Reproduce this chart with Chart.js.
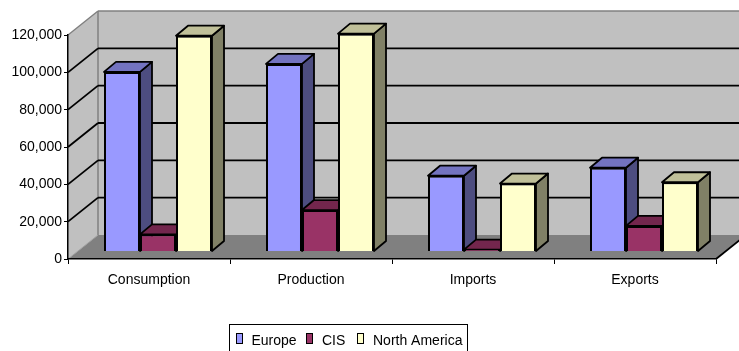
<!DOCTYPE html>
<html><head><meta charset="utf-8">
<script src="https://cdn.jsdelivr.net/npm/chart.js@4/dist/chart.umd.min.js"></script>
<style>html,body{margin:0;padding:0;background:#fff;overflow:hidden}#wrap{width:739px;height:351px;position:relative}</style>
</head><body><div id="wrap"><canvas id="c" width="739" height="351"></canvas></div>
<script>
// ---- data ----
const categories = ['Consumption', 'Production', 'Imports', 'Exports'];
const seriesNames = ['Europe', 'CIS', 'North America'];
const europe = [96200, 100500, 40600, 44900];
const cis = [9200, 22200, 1000, 13700];
const northAmerica = [115600, 116700, 36400, 37100];
const yTicks = [0, 20000, 40000, 60000, 80000, 100000, 120000];

// ---- styles ----
const frontColors = ['#9999FF', '#993366', '#FFFFCC'];
const topColors = ['#7373C0', '#73264D', '#C0C099'];
const sideColors = ['#4D4D80', '#4D1A33', '#808066'];
const FONT = '"Liberation Sans", Arial, sans-serif';
const WALL = {dx: 30, dy: -24};
const BAR = {dx: 12, dy: -10};
const PLANE = {x: 9, y: -7.5};

function poly(ctx, pts, fill, stroke, lw) {
  ctx.beginPath();
  ctx.moveTo(pts[0][0], pts[0][1]);
  for (let i = 1; i < pts.length; i++) ctx.lineTo(pts[i][0], pts[i][1]);
  ctx.closePath();
  if (fill) { ctx.fillStyle = fill; ctx.fill(); }
  if (stroke) { ctx.strokeStyle = stroke; ctx.lineWidth = lw || 1; ctx.lineJoin = 'round'; ctx.stroke(); }
}
function line(ctx, x1, y1, x2, y2, color, lw) {
  ctx.beginPath(); ctx.moveTo(x1, y1); ctx.lineTo(x2, y2);
  ctx.strokeStyle = color; ctx.lineWidth = lw; ctx.stroke();
}

const threeD = {
  id: 'threeD',
  beforeDraw(chart) {
    const {ctx, chartArea: {left: L, right: R, top: T, bottom: B}} = chart;
    const y = chart.scales.y;
    const dx = WALL.dx, dy = WALL.dy;
    ctx.save();
    poly(ctx, [[L, B], [L, T], [L + dx, T + dy], [L + dx, B + dy]], '#C0C0C0');
    poly(ctx, [[L + dx, T + dy], [R + dx, T + dy], [R + dx, B + dy], [L + dx, B + dy]], '#C0C0C0');
    poly(ctx, [[L, B], [R, B], [R + dx, B + dy], [L + dx, B + dy]], '#808080');
    // wall borders
    line(ctx, L, T, L + dx, T + dy, '#808080', 1.5);
    line(ctx, L + dx, T + dy, R + dx + 5, T + dy, '#808080', 1.5);
    line(ctx, L + dx, T + dy, L + dx, B + dy, '#808080', 1.5);
    line(ctx, L, B, L + dx, B + dy, '#A0A0A0', 1);
    // gridlines
    yTicks.forEach(v => {
      if (v === yTicks[0] || v === yTicks[yTicks.length - 1]) return;
      const py = y.getPixelForValue(v);
      line(ctx, L, py, L + dx, py + dy, '#000', 1.8);
      line(ctx, L + dx, py + dy, R + dx + 5, py + dy, '#000', 1.8);
    });
    line(ctx, R, B, R + dx, B + dy, '#000', 1.8);
    ctx.restore();
  },
  beforeDatasetsDraw(chart) {
    const ctx = chart.ctx;
    ctx.save();
    ctx.translate(PLANE.x, PLANE.y);
    chart.data.datasets.forEach((ds, i) => {
      const meta = chart.getDatasetMeta(i);
      meta.data.forEach(el => {
        const {x, y, base, width} = el.getProps(['x', 'y', 'base', 'width'], true);
        const l = x - width / 2, r = x + width / 2;
        poly(ctx, [[r, y], [r + BAR.dx, y + BAR.dy], [r + BAR.dx, base + BAR.dy], [r, base]], sideColors[i], '#000', 1.8);
        poly(ctx, [[l, y], [l + BAR.dx, y + BAR.dy], [r + BAR.dx, y + BAR.dy], [r, y]], topColors[i], '#000', 1.8);
        el.draw(ctx, chart.chartArea);
      });
    });
    ctx.restore();
    return false;
  },
  afterDraw(chart) {
    const ctx = chart.ctx;
    ctx.save();
    ctx.strokeStyle = '#000'; ctx.lineWidth = 1;
    ctx.strokeRect(229.5, 324.5, 238, 40);
    const mx = [236.5, 306.5, 357.5];
    const tx = [251.5, 322, 373];
    ctx.font = '14px ' + FONT;
    ctx.textBaseline = 'alphabetic';
    chart.data.datasets.forEach((ds, i) => {
      ctx.fillStyle = ds.backgroundColor;
      ctx.fillRect(mx[i], 333.5, 6, 10);
      ctx.strokeRect(mx[i], 333.5, 6, 10);
      ctx.fillStyle = '#000';
      ctx.fillText(ds.label, tx[i], 345);
    });
    ctx.restore();
  }
};

const seriesData = [europe, cis, northAmerica];
new Chart(document.getElementById('c'), {
  type: 'bar',
  data: {
    labels: categories,
    datasets: seriesNames.map((n, i) => ({
      label: n, data: seriesData[i], backgroundColor: frontColors[i],
      borderColor: '#000', borderWidth: 2
    }))
  },
  options: {
    responsive: false, animation: false, devicePixelRatio: 1,
    categoryPercentage: 0.6667, barPercentage: 1,
    layout: {padding: {left: 0, right: 23, top: 35, bottom: 52}},
    plugins: {legend: {display: false}, tooltip: {enabled: false}},
    scales: {
      x: {
        grid: {display: true, drawOnChartArea: false, drawTicks: true, tickLength: 5, color: '#000', offset: true},
        border: {display: true, color: '#000', width: 1.5},
        ticks: {font: {family: FONT, size: 14}, color: '#000', padding: 8},
        afterFit: s => { s.height = 40; }
      },
      y: {
        min: yTicks[0], max: yTicks[yTicks.length - 1],
        afterBuildTicks: s => { s.ticks = yTicks.map(v => ({value: v})); },
        grid: {display: true, drawOnChartArea: false, drawTicks: true, tickLength: 4, color: '#000'},
        border: {display: true, color: '#000', width: 1.5},
        ticks: {font: {family: FONT, size: 14}, color: '#000', padding: 2,
          callback: v => Number(v).toLocaleString('en-US')},
        afterFit: s => { s.width = 68; }
      }
    }
  },
  plugins: [threeD]
});
</script></body></html>
